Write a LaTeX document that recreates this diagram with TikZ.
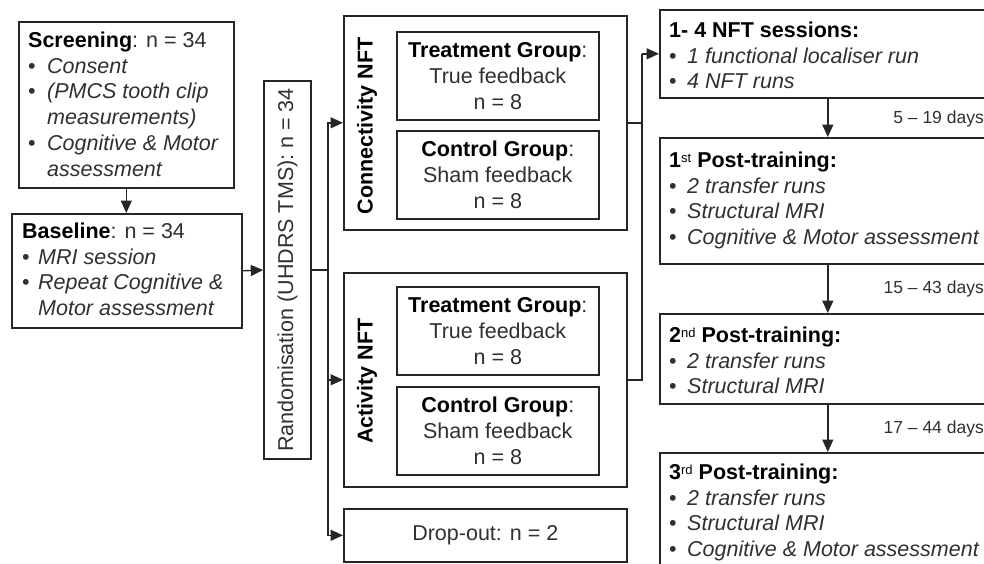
\documentclass[tikz,border=0pt]{standalone}
\usepackage{fontspec}
\setmainfont{Liberation Sans}
\usepackage{graphicx}
\usetikzlibrary{arrows.meta}

\definecolor{ink}{HTML}{262626}
\definecolor{txt}{HTML}{303030}

% bullet line, continuation line, heading, first-line strut
\newcommand{\bitem}[2][18pt]{\makebox[#1][l]{\textbullet}\textit{#2}}
\newcommand{\bcont}[2][18pt]{\hspace*{#1}\textit{#2}}
\newcommand{\hd}[1]{\textcolor{black}{\textbf{#1}}}
\newcommand{\firstline}{\rule{0pt}{20pt}}
\newcommand{\ordsup}[1]{\raisebox{5pt}{\fontsize{13}{13}\selectfont\mdseries #1}}

\begin{document}
\begin{tikzpicture}[x=1pt,y=-1pt,
  every node/.style={font=\fontsize{21.5}{25.8}\selectfont, text=txt},
  boxframe/.style={draw=ink, line width=1.6pt, rectangle, anchor=north west, inner sep=0pt},
  listtext/.style={anchor=north west, inner sep=0pt, align=left},
  grpbox/.style={boxframe, minimum width=202pt, minimum height=88pt, align=center},
  wire/.style={draw=ink, line width=1.4pt},
  arr/.style={wire, -{Triangle[length=12.5pt,width=11pt]}},
  gaplabel/.style={font=\fontsize{17.5}{21}\selectfont, anchor=east, inner sep=0pt}
]
\useasboundingbox (0,0) rectangle (984,563);
\clip (0,0) rectangle (984,563);

% ---- left column ----
\node[boxframe, minimum width=215pt, minimum height=166pt] (screen) at (18,21) {};
\node[listtext] (screentxt) at (28,27) {\firstline\hd{Screening}: n = 34\\
  \bitem[19pt]{Consent}\\
  \bitem[19pt]{(PMCS tooth clip}\\
  \bcont[19pt]{measurements)}\\
  \bitem[19pt]{Cognitive \& Motor}\\
  \bcont[19pt]{assessment}};

\node[boxframe, minimum width=230pt, minimum height=114pt] (base) at (11,213) {};
\node[listtext] (basetxt) at (22,218) {\firstline\hd{Baseline}: n = 34\\
  \bitem[16pt]{MRI session}\\
  \bitem[16pt]{Repeat Cognitive \&}\\
  \bcont[16pt]{Motor assessment}};

\node[boxframe, anchor=center, minimum width=47pt, minimum height=378pt] (rand) at (287.5,270)
  {\rotatebox{90}{Randomisation (UHDRS TMS): n = 34}};

% ---- study arms ----
\node[boxframe, minimum width=283pt, minimum height=214pt] (conn) at (343,15) {};
\node[inner sep=0pt] (connlab) at (367,126) {\rotatebox{90}{\hd{Connectivity NFT}}};
\node[grpbox] (conntreat) at (396,31) {\hd{Treatment Group}:\\True feedback\\n = 8};
\node[grpbox] (connctrl) at (396,130) {\hd{Control Group}:\\Sham feedback\\n = 8};

\node[boxframe, minimum width=283pt, minimum height=214pt] (act) at (343,272) {};
\node[inner sep=0pt] (actlab) at (367,381) {\rotatebox{90}{\hd{Activity NFT}}};
\node[grpbox] (acttreat) at (396,286) {\hd{Treatment Group}:\\True feedback\\n = 8};
\node[grpbox] (actctrl) at (396,386) {\hd{Control Group}:\\Sham feedback\\n = 8};

\node[boxframe, minimum width=283pt, minimum height=53pt] (drop) at (343,508) {Drop-out: n = 2};

% ---- sessions ----
\node[boxframe, minimum width=336pt, minimum height=88pt] (nft) at (659,9) {};
\node[listtext] (nfttxt) at (669,17) {\firstline\hd{1- 4 NFT sessions:}\\
  \bitem{1 functional localiser run}\\
  \bitem{4 NFT runs}};

\node[boxframe, minimum width=336pt, minimum height=126pt] (post1) at (659,137) {};
\node[listtext] (post1txt) at (669,147) {\firstline\hd{1\ordsup{st} Post-training:}\\
  \bitem{2 transfer runs}\\
  \bitem{Structural MRI}\\
  \bitem{Cognitive \& Motor assessment}};

\node[boxframe, minimum width=336pt, minimum height=90pt] (post2) at (659,313) {};
\node[listtext] (post2txt) at (669,322) {\firstline\hd{2\ordsup{nd} Post-training:}\\
  \bitem{2 transfer runs}\\
  \bitem{Structural MRI}};

\node[boxframe, minimum width=336pt, minimum height=130pt] (post3) at (659,452) {};
\node[listtext] (post3txt) at (669,459) {\firstline\hd{3\ordsup{rd} Post-training:}\\
  \bitem{2 transfer runs}\\
  \bitem{Structural MRI}\\
  \bitem{Cognitive \& Motor assessment}};

\node[gaplabel] (gap1) at (984,119) {5 – 19 days};
\node[gaplabel] (gap2) at (984,289) {15 – 43 days};
\node[gaplabel] (gap3) at (984,429) {17 – 44 days};

% ---- connectors ----
\draw[arr] (screen.south) -- (screen.south |- base.north);
\draw[arr] (base.east) -- (rand.west);

\coordinate (split) at ([xshift=16pt]rand.east);
\draw[wire] (rand.east) -- (split);
\draw[arr] (split) |- (conn.west);
\draw[arr] (split) |- (act.west);
\draw[arr] (split) |- (drop.west);

\path (nft.west) ++(-17,0) coordinate (merge);
\draw[wire] (conn.east) -| (merge);
\draw[wire] (act.east) -| (merge);
\draw[arr] (merge) -- (nft.west);

\draw[arr] (nft.south) -- (post1.north);
\draw[arr] (post1.south) -- (post2.north);
\draw[arr] (post2.south) -- (post3.north);
\end{tikzpicture}
\end{document}
